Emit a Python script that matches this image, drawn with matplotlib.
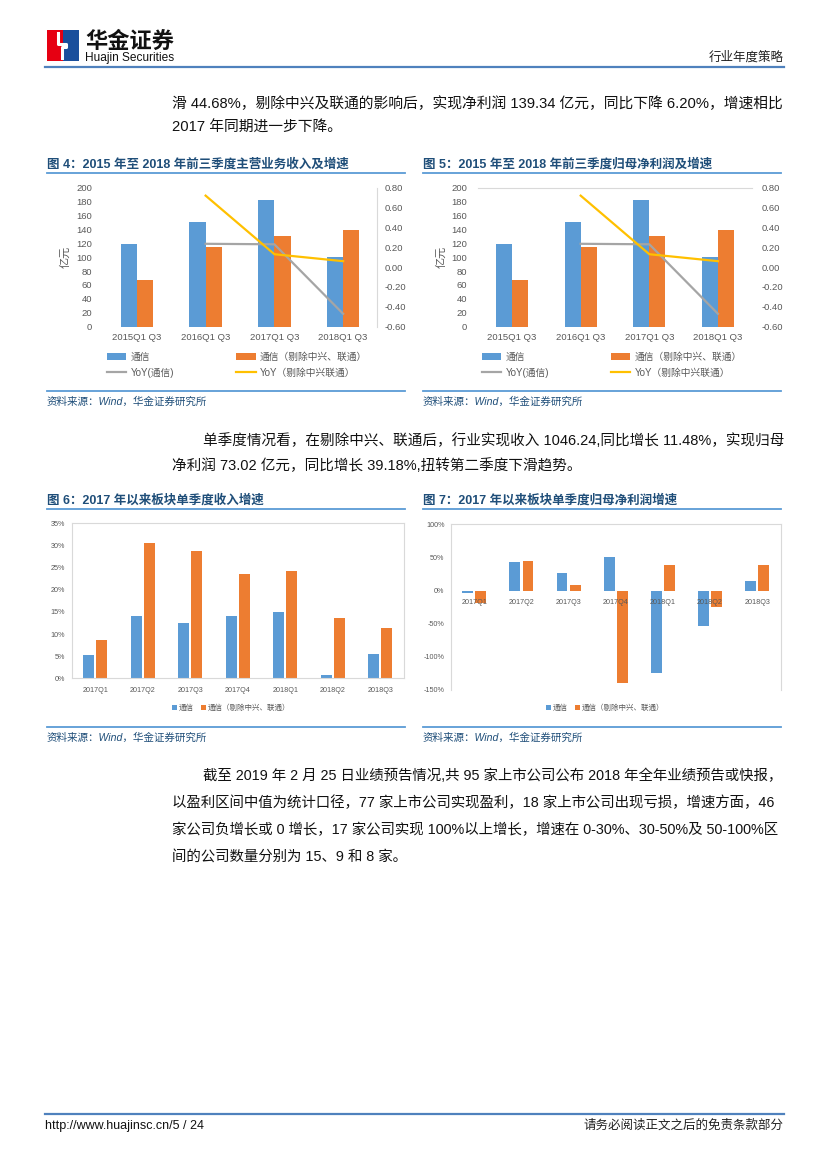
import matplotlib
matplotlib.use("Agg")
import matplotlib.pyplot as plt
import numpy as np
from matplotlib.patches import Patch, Rectangle
from matplotlib.lines import Line2D
from matplotlib.ticker import FormatStrFormatter

plt.rcParams['font.family'] = ['Liberation Sans', 'Noto Sans CJK SC', 'DejaVu Sans']

W, H = 827, 1169
BLUE = "#5b9bd5"
ORANGE = "#ed7d31"
GRAY = "#a5a5a5"
YELLOW = "#ffc000"
TICK = "#595959"
TITLE = "#1f4e79"
RULE = "#4f81bd"

# ---- data -----------------------------------------------------------------
ytd_cats = ["2015Q1 Q3", "2016Q1 Q3", "2017Q1 Q3", "2018Q1 Q3"]
# fig 4: revenue, 100m yuan
rev = [119, 150, 183, 100]
rev_ex = [67, 115, 130, 139]
rev_yoy = [np.nan, 0.235, 0.23, -0.47]
rev_yoy_ex = [np.nan, 0.72, 0.13, 0.06]
# fig 5: net profit attributable, 100m yuan
np_ytd = [119, 150, 183, 100]
np_ytd_ex = [67, 115, 130, 139]
np_yoy = [np.nan, 0.235, 0.23, -0.47]
np_yoy_ex = [np.nan, 0.72, 0.13, 0.06]

q_cats = ["2017Q1", "2017Q2", "2017Q3", "2017Q4", "2018Q1", "2018Q2", "2018Q3"]
# fig 6: single-quarter revenue growth, %
q_rev = [5.3, 14.1, 12.6, 14.1, 15.0, 0.7, 5.5]
q_rev_ex = [8.7, 30.6, 28.7, 23.5, 24.3, 13.7, 11.4]
# fig 7: single-quarter net profit growth, %
q_np = [-3, 43, 27, 51, -124, -54, 15]
q_np_ex = [-18, 45, 9, -140, 39, -25, 39]

LAB_TX = "通信"
LAB_EX = "通信（剔除中兴、联通）"
LAB_YOY = "YoY(通信)"
LAB_YOY_EX = "YoY（剔除中兴联通）"

PARA1 = ["滑 44.68%，剔除中兴及联通的影响后，实现净利润 139.34 亿元，同比下降 6.20%，增速相比",
         "2017 年同期进一步下降。"]
PARA2 = ["单季度情况看，在剔除中兴、联通后，行业实现收入 1046.24,同比增长 11.48%，实现归母",
         "净利润 73.02 亿元，同比增长 39.18%,扭转第二季度下滑趋势。"]
PARA3 = ["截至 2019 年 2 月 25 日业绩预告情况,共 95 家上市公司公布 2018 年全年业绩预告或快报，",
         "以盈利区间中值为统计口径，77 家上市公司实现盈利，18 家上市公司出现亏损，增速方面，46",
         "家公司负增长或 0 增长，17 家公司实现 100%以上增长，增速在 0-30%、30-50%及 50-100%区",
         "间的公司数量分别为 15、9 和 8 家。"]

fig = plt.figure(figsize=(W / 100, H / 100), dpi=100)
fig.patch.set_facecolor("white")

bg = fig.add_axes([0, 0, 1, 1])
bg.set_xlim(0, W); bg.set_ylim(H, 0); bg.axis("off")


def place(x0, y0, x1, y1):
    return fig.add_axes([x0 / W, 1 - y1 / H, (x1 - x0) / W, (y1 - y0) / H])


# ---- page header / footer --------------------------------------------------
bg.add_patch(Rectangle((46.5, 30), 16, 31, facecolor="#e60012", edgecolor="none"))
bg.add_patch(Rectangle((62.5, 30), 16, 31, facecolor="#1a4f9c", edgecolor="none"))
bg.plot([58, 58, 66, 66, 62, 62], [33, 44, 44, 47, 47, 58], color="white", lw=2.2)
bg.text(85, 41, "华金证券", fontsize=16, fontweight="bold", va="center", ha="left",
        family=["Noto Sans CJK SC"], color="#111")
bg.text(85, 57.5, "Huajin Securities", fontsize=8.6, va="center", ha="left", color="#111")
bg.text(784, 57, "行业年度策略", fontsize=9, ha="right", va="center", color="#222")
bg.plot([45, 784], [67, 67], color=RULE, lw=1.6)

bg.plot([45, 784], [1114, 1114], color=RULE, lw=1.6)
bg.text(45, 1126, "http://www.huajinsc.cn/5 / 24", fontsize=9, ha="left", va="center", color="#111")
bg.text(784, 1126, "请务必阅读正文之后的免责条款部分", fontsize=9, ha="right", va="center", color="#222")


def paragraph(lines, y0, step=26, indent=True, size=10.4):
    for k, ln in enumerate(lines):
        x = 203 if (k == 0 and indent) else 172
        bg.text(x, y0 + k * step, ln, fontsize=size, ha="left", va="center", color="#111")


paragraph(PARA1, 104, step=24, indent=False, size=10.65)
paragraph(PARA2, 441, step=25, size=10.5)
paragraph(PARA3, 776, step=27)


def frame(x0, x1, y_title, title, y_src):
    bg.text(x0, y_title, title, fontsize=9, fontweight="bold", color=TITLE, ha="left", va="center")
    bg.plot([x0, x1], [y_title + 9, y_title + 9], color=BLUE, lw=1.3)
    bg.plot([x0, x1], [y_src - 11, y_src - 11], color=BLUE, lw=1.3)
    bg.text(x0, y_src, "资料来源：Wind，华金证券研究所", fontsize=7.6, color=TITLE,
            style="italic", ha="left", va="center")


frame(47, 405, 164, "图 4：2015 年至 2018 年前三季度主营业务收入及增速", 402)
frame(423, 781, 164, "图 5：2015 年至 2018 年前三季度归母净利润及增速", 402)
frame(47, 405, 500, "图 6：2017 年以来板块单季度收入增速", 738)
frame(423, 781, 500, "图 7：2017 年以来板块单季度归母净利润增速", 738)


# ---- fig 4 / fig 5 ---------------------------------------------------------
def ytd_chart(x0, x1, a, b, g, g_ex, leg_x, lpad, rpad, edge):
    ax = place(x0, 187.7, x1, 326.7)
    x = np.arange(len(ytd_cats))
    w = 0.235
    ax.bar(x - w / 2, a, w, color=BLUE)
    ax.bar(x + w / 2, b, w, color=ORANGE)
    ax.set_xlim(-0.5, 3.5); ax.set_ylim(0, 200)
    ax.set_yticks(range(0, 201, 20))
    ax.set_xticks(x, ytd_cats)
    ax.tick_params(length=0, labelsize=6.8, colors=TICK)
    ax.tick_params(axis="y", pad=lpad)
    ax.tick_params(axis="x", pad=4.5)
    for s in ax.spines.values():
        s.set_visible(False)
    ax.set_ylabel("亿元", fontsize=8, color=TICK)
    ax.yaxis.set_label_coords(-0.115, 0.5)

    ax2 = ax.twinx()
    ax2.plot(x, g, color=GRAY, lw=1.6)
    ax2.plot(x, g_ex, color=YELLOW, lw=1.6)
    ax2.set_ylim(-0.6, 0.8)
    ax2.set_yticks(np.arange(-0.6, 0.81, 0.2))
    ax2.yaxis.set_major_formatter(FormatStrFormatter("%.2f"))
    ax2.tick_params(length=0, labelsize=6.8, colors=TICK, pad=rpad)
    for s in ax2.spines.values():
        s.set_visible(False)
    if edge == "right":
        ax2.spines["right"].set_visible(True)
        ax2.spines["right"].set_color("#d9d9d9")
    else:
        ax2.spines["top"].set_visible(True)
        ax2.spines["top"].set_color("#d9d9d9")

    handles = [Patch(facecolor=BLUE), Line2D([], [], color=GRAY, lw=1.6),
               Patch(facecolor=ORANGE), Line2D([], [], color=YELLOW, lw=1.6)]
    labels = [LAB_TX, LAB_YOY, LAB_EX, LAB_YOY_EX]
    fig.legend(handles, labels, ncol=2, loc="upper left", frameon=False,
               bbox_to_anchor=(leg_x / W, 1 - 352 / H), fontsize=7, labelcolor=TICK,
               handlelength=2.0, handletextpad=0.4, columnspacing=6.4,
               labelspacing=0.6, borderpad=0, borderaxespad=0)


ytd_chart(102.5, 377.5, rev, rev_ex, rev_yoy, rev_yoy_ex, 107, 7.5, 5.4, "right")
ytd_chart(477.7, 752.3, np_ytd, np_ytd_ex, np_yoy, np_yoy_ex, 482, 7.5, 6.8, "top")


# ---- fig 6 / fig 7 ---------------------------------------------------------
def quarter_chart(x0, y0, x1, y1, a, b, ylim, step, leg_x, labels_at_zero):
    ax = place(x0, y0, x1, y1)
    x = np.arange(len(q_cats))
    w = 0.23
    ax.bar(x - 0.14, a, w, color=BLUE)
    ax.bar(x + 0.14, b, w, color=ORANGE)
    ax.set_xlim(-0.5, len(q_cats) - 0.5)
    ax.set_ylim(*ylim)
    ax.set_yticks(np.arange(ylim[0], ylim[1] + 1, step))
    ax.yaxis.set_major_formatter(FormatStrFormatter("%d%%"))
    ax.tick_params(length=0, labelsize=5.2, colors=TICK, pad=4.5)
    for s in ax.spines.values():
        s.set_color("#d9d9d9"); s.set_linewidth(0.8)
    if labels_at_zero:
        ax.spines["bottom"].set_visible(False)
        ax.set_xticks([])
        for i, c in enumerate(q_cats):
            ax.annotate(c, (i, 0), xytext=(0, -8.4), textcoords="offset points",
                        ha="center", va="center", fontsize=5.2, color=TICK)
    else:
        ax.set_xticks(x, q_cats)
        ax.tick_params(axis="x", pad=6)
    handles = [Patch(facecolor=BLUE), Patch(facecolor=ORANGE)]
    fig.legend(handles, [LAB_TX, LAB_EX], ncol=2, loc="center", frameon=False,
               bbox_to_anchor=(leg_x / W, 1 - 708 / H), fontsize=5.4, labelcolor=TICK,
               handlelength=0.7, handleheight=0.7, handletextpad=0.2,
               columnspacing=1.0, borderpad=0, borderaxespad=0)


quarter_chart(71.5, 523.3, 404, 678.3, q_rev, q_rev_ex, (0, 35), 5, 231, False)
quarter_chart(450.7, 524.3, 780.7, 690, q_np, q_np_ex, (-150, 100), 50, 605, True)

fig.savefig("out.png", dpi=100, facecolor="white")
